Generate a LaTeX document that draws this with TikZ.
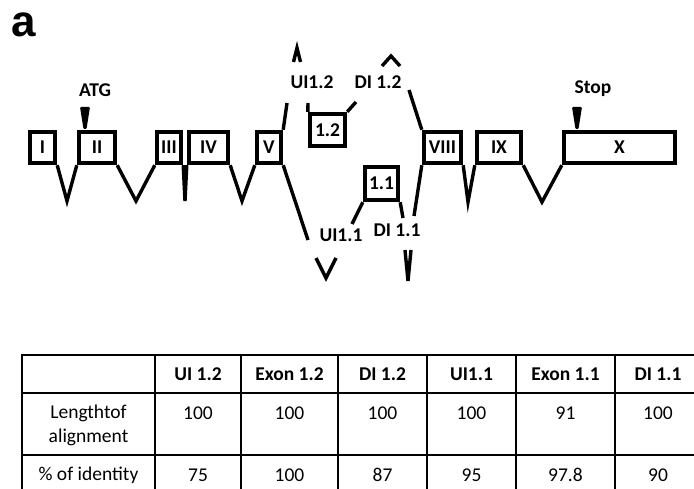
\documentclass[tikz,border=0pt]{standalone}
\usepackage{fontspec}
\setmainfont{Carlito}
\newfontfamily\panelfont{Liberation Sans}
\usetikzlibrary{positioning}

\begin{document}
\begin{tikzpicture}[
    x=1pt, y=-1pt,
    font=\fontsize{19.5}{22}\selectfont\bfseries,
    exon/.style={draw,line width=4.4pt,minimum height=31pt,inner sep=0pt},
    intron/.style={line width=3.4pt},
    cell/.style={font=\fontsize{19.5}{24}\selectfont,inner sep=0pt,align=center},
    head/.style={font=\fontsize{19.5}{22}\selectfont\bfseries,inner sep=0pt},
    grid/.style={line width=1.7pt}
  ]
    \useasboundingbox (0,0) rectangle (694,489);
    \node (panel) at (24,25) {\panelfont\fontsize{44}{44}\selectfont\bfseries a};

    % Top: exons of the gene
    \node[exon,minimum width=25pt] (e1) at (42.5,147.5) {I};
    \node[exon,minimum width=36pt] (e2) at (97,147.5) {II};
    \node[exon,minimum width=24pt] (e3) at (169,147.5) {III};
    \node[exon,minimum width=39pt] (e4) at (208.5,147.5) {IV};
    \node[exon,minimum width=24pt] (e5) at (269,147.5) {V};
    \node[exon,minimum width=35pt,minimum height=32pt] (e12) at (327.5,130) {1.2};
    \node[exon,minimum width=33pt,minimum height=33pt] (e11) at (381.5,183.5) {1.1};
    \node[exon,minimum width=37pt] (e8) at (442.5,147.5) {VIII};
    \node[exon,minimum width=44pt] (e9) at (499,147.5) {IX};
    \node[exon,minimum width=111pt] (e10) at (619.5,147.5) {X};

    % Labels
    \node (atg) at (95,90) {ATG};
    \node (stop) at (593,89) {Stop};
    \node (ui12) at (312,82) {UI1.2};
    \node (di12) at (378,82) {DI 1.2};
    \node (ui11) at (341,235) {UI1.1};
    \node (di11) at (397,230) {DI 1.1};

    % ATG and stop marks
    \fill[rounded corners=1pt] (80,107) -- (90,107) -- (86.5,129) -- (83.5,129) -- cycle;
    \fill[rounded corners=1pt] (572,107) -- (582,107) -- (578.5,129) -- (575.5,129) -- cycle;

    % Introns
    \coordinate (v1) at (67,201);
    \coordinate (v2) at (136,201);
    \coordinate (v3) at (185,201);
    \coordinate (v4) at (242,201);
    \coordinate (v8) at (468,202);
    \coordinate (v9) at (542,202);
    \draw[intron] (e1.south east) -- (v1) -- (e2.south west);
    \draw[intron] (e2.south east) -- (v2) -- (e3.south west);
    \draw[intron] (e3.south east) -- (v3) -- (e4.south west);
    \draw[intron] (e4.south east) -- (v4) -- (e5.south west);
    \draw[intron] (e8.south east) -- (v8) -- (e9.south west);
    \draw[intron] (e9.south east) -- (v9) -- (e10.south west);

    % Introns around the new exons
    \coordinate (c5u) at (287,103);
    \coordinate (c5d) at (308,240);
    \coordinate (c12l) at (308,103);
    \coordinate (c12r) at (356,102);
    \coordinate (c8u) at (409,90);
    \coordinate (c8d) at (414,216);
    \coordinate (c11l) at (352,224);
    \coordinate (c11r) at (403,218);
    \draw[intron] (e5.north east) -- (c5u);
    \draw[intron] (e5.south east) -- (c5d);
    \draw[intron] (c12l) -- (e12.north west);
    \draw[intron] (e12.north east) -- (c12r);
    \draw[intron] (c8u) -- (e8.north west);
    \draw[intron] (e8.south west) -- (c8d);
    \draw[intron] (e11.south west) -- (c11l);
    \draw[intron] (e11.south east) -- (c11r);

    % Broken ends
    \draw[intron] (293.5,62) -- (297,48) -- (300.5,62);
    \draw[intron] (382,66) -- (391,56) -- (400,66);
    \draw[intron] (316,258) -- (326,278) -- (336,258);
    \draw[intron] (405,250) -- (408,281) -- (411,250);

    % Bottom: table
    \draw[grid] (22,355) -- (700,355);
    \draw[grid] (22,393) -- (700,393);
    \draw[grid] (22,455) -- (700,455);
    \draw[grid] (22,354.2) -- (22,489);
    \draw[grid] (155,355) -- (155,489);
    \draw[grid] (241,355) -- (241,489);
    \draw[grid] (338,355) -- (338,489);
    \draw[grid] (427,355) -- (427,489);
    \draw[grid] (516,355) -- (516,489);
    \draw[grid] (615,355) -- (615,489);

    \node[head] (h1) at (198,374) {UI 1.2};
    \node[head] (h2) at (289.5,374) {Exon 1.2};
    \node[head] (h3) at (382.5,374) {DI 1.2};
    \node[head] (h4) at (471.5,374) {UI1.1};
    \node[head] (h5) at (565.5,374) {Exon 1.1};
    \node[head] (h6) at (658,374) {DI 1.1};

    \node[cell] (rlen) at (88.5,425) {Lengthtof\\alignment};
    \node[cell] (l1) at (198,413) {100};
    \node[cell] (l2) at (289.5,413) {100};
    \node[cell] (l3) at (382.5,413) {100};
    \node[cell] (l4) at (471.5,413) {100};
    \node[cell] (l5) at (565.5,413) {91};
    \node[cell] (l6) at (658,413) {100};

    \node[cell] (rid) at (88.5,475) {\% of identity};
    \node[cell] (p1) at (198,475) {75};
    \node[cell] (p2) at (289.5,475) {100};
    \node[cell] (p3) at (382.5,475) {87};
    \node[cell] (p4) at (471.5,475) {95};
    \node[cell] (p5) at (565.5,475) {97.8};
    \node[cell] (p6) at (658,475) {90};
\end{tikzpicture}
\end{document}
